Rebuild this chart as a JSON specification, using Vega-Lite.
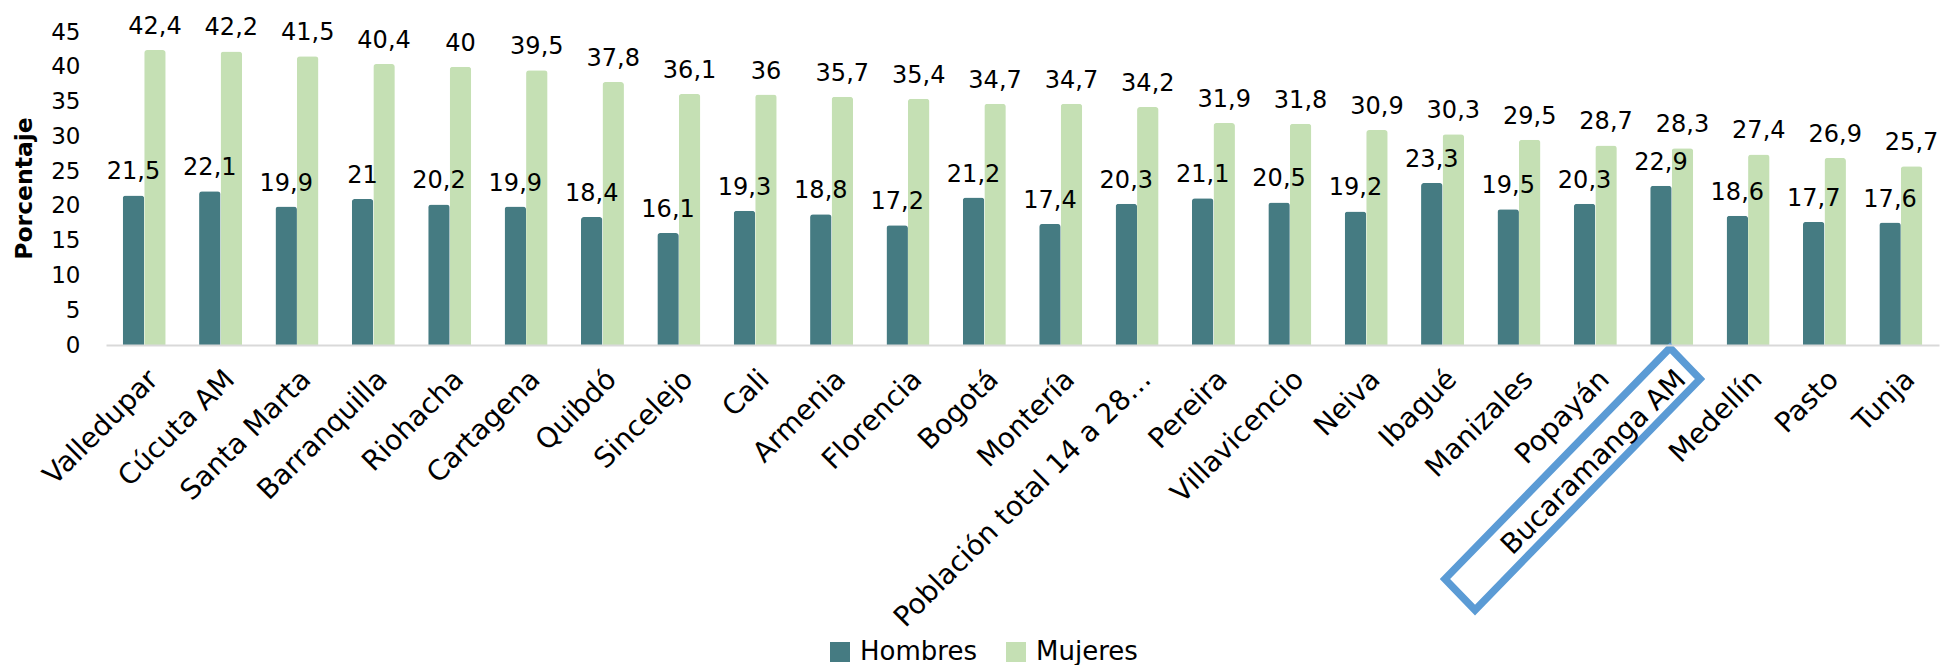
{
  "$schema": "https://vega.github.io/schema/vega-lite/v6.json",
  "width": 1833,
  "height": 313,
  "autosize": {"type": "none"},
  "padding": {"left": 106, "top": 32, "right": 5, "bottom": 320},
  "background": "white",
  "config": {
    "view": {"stroke": null},
    "font": "DejaVu Sans",
    "locale": {"number": {"decimal": ",", "thousands": ".", "grouping": [3], "currency": ["", " €"]}}
  },
  "layer": [
    {
      "data": {
        "values": [
          {"ciudad": "Valledupar", "sexo": "Hombres", "valor": 21.5},
          {"ciudad": "Valledupar", "sexo": "Mujeres", "valor": 42.4},
          {"ciudad": "Cúcuta AM", "sexo": "Hombres", "valor": 22.1},
          {"ciudad": "Cúcuta AM", "sexo": "Mujeres", "valor": 42.2},
          {"ciudad": "Santa Marta", "sexo": "Hombres", "valor": 19.9},
          {"ciudad": "Santa Marta", "sexo": "Mujeres", "valor": 41.5},
          {"ciudad": "Barranquilla", "sexo": "Hombres", "valor": 21},
          {"ciudad": "Barranquilla", "sexo": "Mujeres", "valor": 40.4},
          {"ciudad": "Riohacha", "sexo": "Hombres", "valor": 20.2},
          {"ciudad": "Riohacha", "sexo": "Mujeres", "valor": 40},
          {"ciudad": "Cartagena", "sexo": "Hombres", "valor": 19.9},
          {"ciudad": "Cartagena", "sexo": "Mujeres", "valor": 39.5},
          {"ciudad": "Quibdó", "sexo": "Hombres", "valor": 18.4},
          {"ciudad": "Quibdó", "sexo": "Mujeres", "valor": 37.8},
          {"ciudad": "Sincelejo", "sexo": "Hombres", "valor": 16.1},
          {"ciudad": "Sincelejo", "sexo": "Mujeres", "valor": 36.1},
          {"ciudad": "Cali", "sexo": "Hombres", "valor": 19.3},
          {"ciudad": "Cali", "sexo": "Mujeres", "valor": 36},
          {"ciudad": "Armenia", "sexo": "Hombres", "valor": 18.8},
          {"ciudad": "Armenia", "sexo": "Mujeres", "valor": 35.7},
          {"ciudad": "Florencia", "sexo": "Hombres", "valor": 17.2},
          {"ciudad": "Florencia", "sexo": "Mujeres", "valor": 35.4},
          {"ciudad": "Bogotá", "sexo": "Hombres", "valor": 21.2},
          {"ciudad": "Bogotá", "sexo": "Mujeres", "valor": 34.7},
          {"ciudad": "Montería", "sexo": "Hombres", "valor": 17.4},
          {"ciudad": "Montería", "sexo": "Mujeres", "valor": 34.7},
          {"ciudad": "Población total 14 a 28…", "sexo": "Hombres", "valor": 20.3},
          {"ciudad": "Población total 14 a 28…", "sexo": "Mujeres", "valor": 34.2},
          {"ciudad": "Pereira", "sexo": "Hombres", "valor": 21.1},
          {"ciudad": "Pereira", "sexo": "Mujeres", "valor": 31.9},
          {"ciudad": "Villavicencio", "sexo": "Hombres", "valor": 20.5},
          {"ciudad": "Villavicencio", "sexo": "Mujeres", "valor": 31.8},
          {"ciudad": "Neiva", "sexo": "Hombres", "valor": 19.2},
          {"ciudad": "Neiva", "sexo": "Mujeres", "valor": 30.9},
          {"ciudad": "Ibagué", "sexo": "Hombres", "valor": 23.3},
          {"ciudad": "Ibagué", "sexo": "Mujeres", "valor": 30.3},
          {"ciudad": "Manizales", "sexo": "Hombres", "valor": 19.5},
          {"ciudad": "Manizales", "sexo": "Mujeres", "valor": 29.5},
          {"ciudad": "Popayán", "sexo": "Hombres", "valor": 20.3},
          {"ciudad": "Popayán", "sexo": "Mujeres", "valor": 28.7},
          {"ciudad": "Bucaramanga AM", "sexo": "Hombres", "valor": 22.9},
          {"ciudad": "Bucaramanga AM", "sexo": "Mujeres", "valor": 28.3},
          {"ciudad": "Medellín", "sexo": "Hombres", "valor": 18.6},
          {"ciudad": "Medellín", "sexo": "Mujeres", "valor": 27.4},
          {"ciudad": "Pasto", "sexo": "Hombres", "valor": 17.7},
          {"ciudad": "Pasto", "sexo": "Mujeres", "valor": 26.9},
          {"ciudad": "Tunja", "sexo": "Hombres", "valor": 17.6},
          {"ciudad": "Tunja", "sexo": "Mujeres", "valor": 25.7}
        ]
      },
      "encoding": {
        "x": {
          "field": "ciudad",
          "type": "nominal",
          "sort": null,
          "scale": {"paddingInner": 0.437, "paddingOuter": 0.2185},
          "axis": {
            "title": null,
            "labelAngle": -45,
            "labelAlign": "right",
            "labelBaseline": "top",
            "labelFontSize": 28,
            "labelFont": "DejaVu Sans",
            "labelColor": "#000000",
            "labelPadding": 20,
            "labelLimit": 1000,
            "labelOverlap": false,
            "labelBound": false,
            "ticks": false,
            "domainColor": "#d9d9d9",
            "domainWidth": 2,
            "zindex": 1
          }
        },
        "xOffset": {
          "field": "sexo",
          "type": "nominal",
          "sort": ["Hombres", "Mujeres"],
          "scale": {"paddingInner": 0, "paddingOuter": 0}
        },
        "y": {
          "field": "valor",
          "type": "quantitative",
          "title": "Porcentaje",
          "scale": {"domain": [0, 45], "nice": false, "zero": true},
          "axis": {
            "values": [0, 5, 10, 15, 20, 25, 30, 35, 40, 45],
            "labelOverlap": false,
            "grid": false,
            "domain": false,
            "ticks": false,
            "labelFontSize": 23,
            "labelFont": "DejaVu Sans",
            "labelColor": "#000000",
            "labelPadding": 26,
            "titleFont": "DejaVu Sans",
            "titleFontSize": 23.5,
            "titleFontWeight": "bold",
            "titleColor": "#000000",
            "titleAngle": -90,
            "titleX": -75,
            "titleY": 156,
            "titleAlign": "center",
            "titleBaseline": "alphabetic"
          }
        }
      },
      "layer": [
        {
          "mark": {"type": "bar", "cornerRadiusTopLeft": 3, "cornerRadiusTopRight": 3},
          "encoding": {
            "color": {
              "field": "sexo",
              "type": "nominal",
              "sort": ["Hombres", "Mujeres"],
              "scale": {"domain": ["Hombres", "Mujeres"], "range": ["#457B82", "#C5E0B4"]},
              "legend": {
                "title": null,
                "orient": "none",
                "direction": "horizontal",
                "legendX": 721,
                "legendY": 607,
                "symbolType": "square",
                "symbolSize": 400,
                "symbolStrokeWidth": 0,
                "labelFontSize": 26,
                "labelFont": "DejaVu Sans",
                "labelColor": "#000000",
                "labelOffset": 7,
                "columnPadding": 26
              }
            }
          }
        },
        {
          "mark": {"type": "text", "baseline": "alphabetic", "align": "center", "dy": -16, "fontSize": 24, "font": "DejaVu Sans", "color": "#000000"},
          "encoding": {
            "text": {"field": "valor", "type": "quantitative", "format": ".1~f"}
          }
        }
      ]
    },
    {
      "data": {
        "values": [
          {"orden": 1, "bx": 20.478, "by": -0.43},
          {"orden": 2, "bx": 20.871, "by": -4.89},
          {"orden": 3, "bx": 17.925, "by": -38.1},
          {"orden": 4, "bx": 17.532, "by": -33.64},
          {"orden": 5, "bx": 20.478, "by": -0.43},
          {"orden": 6, "bx": 20.871, "by": -4.89}
        ]
      },
      "mark": {"type": "line", "stroke": "#5B9BD5", "strokeWidth": 7.5, "strokeJoin": "miter", "strokeCap": "butt", "clip": false},
      "encoding": {
        "x": {"field": "bx", "type": "quantitative", "scale": {"domain": [0, 24], "nice": false, "zero": false}, "axis": null},
        "y": {"field": "by", "type": "quantitative", "axis": null},
        "order": {"field": "orden", "type": "quantitative"}
      }
    }
  ],
  "resolve": {"scale": {"x": "independent"}, "axis": {"x": "independent", "y": "independent"}}
}
